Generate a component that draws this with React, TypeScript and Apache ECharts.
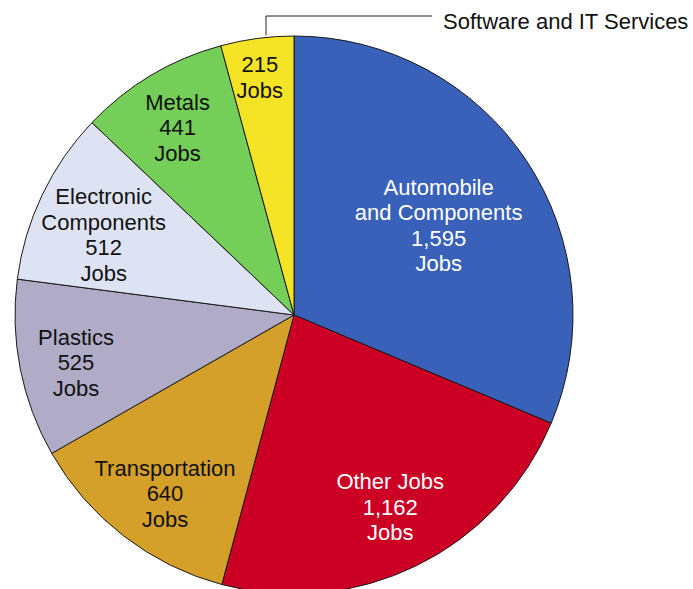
import React, { useEffect, useRef } from "react";
import * as echarts from "echarts";

// ---- data ----
const categories = [
  "Automobile and Components",
  "Other Jobs",
  "Transportation",
  "Plastics",
  "Electronic Components",
  "Metals",
  "Software and IT Services",
];
const jobs = [1595, 1162, 640, 525, 512, 441, 215];
const insideNameLines = [
  ["Automobile", "and Components"],
  ["Other Jobs"],
  ["Transportation"],
  ["Plastics"],
  ["Electronic", "Components"],
  ["Metals"],
  [],
];
const unitLabel = "Jobs";
const externalLabelIndex = 6;

// ---- style ----
const colors = ["#3A61B9", "#CC0025", "#D4A02A", "#B0ABC6", "#DEE3F4", "#74CE57", "#F5E426"];
const textColors = ["#ffffff", "#ffffff", "#111111", "#111111", "#111111", "#111111", "#111111"];
const labelRadiusFrac = [0.61, 0.77, 0.79, 0.8, 0.74, 0.79, 0.86];
const labelAngleShift = [1.8, -0.5, -1.8, -1.2, -2.7, -1.1, -0.6];

const W = 693;
const H = 589;
const CX = 294;
const CY = 315;
const R = 279;
const FONT = "'Liberation Sans', Arial, sans-serif";
const FONT_SIZE = 22;
const LINE_H = 25.5;

export default function App() {
  const ref = useRef<HTMLDivElement>(null);

  useEffect(() => {
    if (!ref.current) return;
    const chart = echarts.init(ref.current, undefined, { renderer: "svg" });
    const total = jobs.reduce((a, b) => a + b, 0);
    const midAngles: number[] = [];
    let acc = 0;
    for (const v of jobs) {
      midAngles.push(((acc + v / 2) / total) * 360);
      acc += v;
    }

    // leader line for the external label
    const leaderDx = -28;
    const leaderX = CX + leaderDx;
    const edgeY = CY - Math.sqrt(R * R - leaderDx * leaderDx);
    const topY = 16;
    const lineEndX = 432;

    chart.setOption({
      animation: false,
      backgroundColor: "#ffffff",
      series: [
        {
          type: "pie",
          center: [CX, CY],
          radius: [0, R],
          startAngle: 90,
          clockwise: true,
          avoidLabelOverlap: false,
          itemStyle: { borderColor: "#1a1a1a", borderWidth: 1 },
          emphasis: { disabled: true },
          labelLine: { show: false },
          data: jobs.map((v, i) => ({
            name: categories[i],
            value: v,
            itemStyle: { color: colors[i] },
            label: { color: textColors[i] },
          })),
          label: {
            show: true,
            position: "inside",
            fontFamily: FONT,
            fontSize: FONT_SIZE,
            lineHeight: LINE_H,
            align: "center",
            formatter: (p: any) => {
              const lines = [...insideNameLines[p.dataIndex]];
              lines.push(Number(p.value).toLocaleString("en-US"));
              lines.push(unitLabel);
              return lines.join("\n");
            },
          },
          labelLayout: (p: any) => {
            const i = p.dataIndex;
            const a = ((midAngles[i] + labelAngleShift[i]) * Math.PI) / 180;
            const rr = R * labelRadiusFrac[i];
            return {
              x: CX + rr * Math.sin(a),
              y: CY - rr * Math.cos(a),
              align: "center",
              verticalAlign: "middle",
            };
          },
        },
      ],
      graphic: [
        {
          type: "polyline",
          shape: {
            points: [
              [leaderX, edgeY - 2],
              [leaderX, topY],
              [lineEndX, topY],
            ],
          },
          style: { stroke: "#222", lineWidth: 1, fill: "none" },
          silent: true,
        },
        {
          type: "text",
          x: 443,
          y: 21,
          style: {
            text: categories[externalLabelIndex],
            fontFamily: FONT,
            fontSize: FONT_SIZE,
            fill: "#111",
            textVerticalAlign: "middle",
            verticalAlign: "middle",
          },
          silent: true,
        },
      ],
    });
    return () => chart.dispose();
  }, []);

  return (
    <div
      ref={ref}
      style={{ position: "fixed", left: 0, top: 0, width: W, height: H, background: "#fff" }}
    />
  );
}
